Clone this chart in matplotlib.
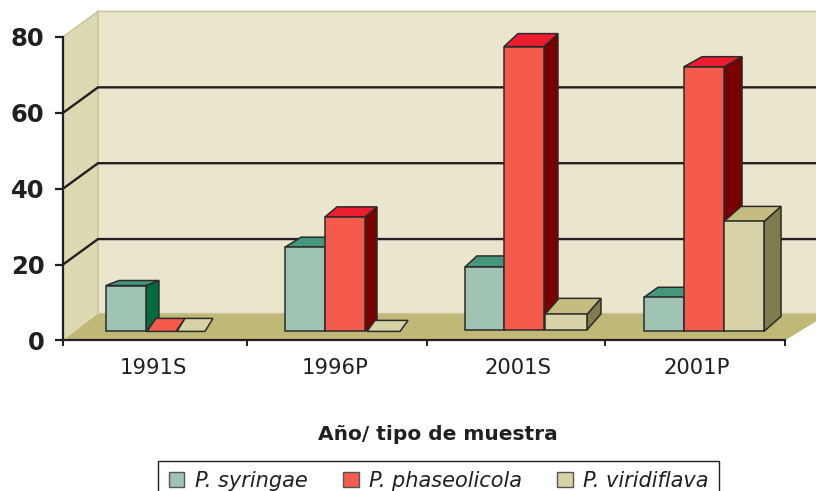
import matplotlib
matplotlib.use("Agg")
import matplotlib.pyplot as plt
from matplotlib.patches import Polygon, Patch

# ---- data
categories = ["1991S", "1996P", "2001S", "2001P"]
series = ["P. syringae", "P. phaseolicola", "P. viridiflava"]
syringae = [12.1, 22.2, 16.6, 9.0]
phaseolicola = [0, 30.2, 74.7, 69.8]
viridiflava = [0, 0, 4.1, 29]
y_ticks = [0, 20, 40, 60, 80]

# ---- appearance
W, H = 816, 491
X0, X1, Y0, Y80 = 63, 785, 340.4, 37
PX_X = (X1 - X0) / 4
PX_Y = (Y0 - Y80) / 80
front = ["#9FC4B3", "#F45B4C", "#D8D3A6"]
top = ["#45967A", "#EE1C30", "#C5BD80"]
side = ["#006B3F", "#780000", "#7F7C4F"]
EDGE = "#2b2b2b"
FONT = "DejaVu Sans"
group_start = [0.238, 1.230, 2.227, 3.219]
base_px = [9, 9, 10.5, 9]
left_px = [[0, 41, 71], [0, 40, 82], [0, 39, 80], [0, 40, 80]]
width_px = [[40, 29, 28], [40, 40, 33], [39, 40, 42], [40, 40, 40]]
depth_px = [[(13, 5), (9, 13), (8, 13)],
            [(16, 10), (12, 10), (8, 11)],
            [(12, 11), (14, 13), (14, 16)],
            [(14, 10), (18, 10), (17, 15)]]

fig = plt.figure(figsize=(W / 100, H / 100), dpi=100, facecolor="white")
ax = fig.add_axes([X0 / W, 1 - Y0 / H, (X1 - X0) / W, (Y0 - Y80) / H])
ax.set_xlim(0, 4)
ax.set_ylim(0, 80)
ax.patch.set_visible(False)


def dx(p):
    return p / PX_X


def dy(p):
    return p / PX_Y


def poly(pts, fc, ec="none", lw=0.0, z=1):
    ax.add_patch(Polygon(pts, closed=True, facecolor=fc, edgecolor=ec, linewidth=lw,
                         zorder=z, clip_on=False, joinstyle="miter"))


# walls and floor
D_X, D_Y = dx(35), dy(25.5)
F_B = dy(27)
right = dx(816 - X0)
poly([(D_X, F_B), (right, F_B), (right, 80 + D_Y), (D_X, 80 + D_Y)], "#EAE6CD", z=1)
poly([(0, 0), (D_X, F_B), (D_X, 80 + D_Y), (0, 80)], "#DDD9B3", z=1)
poly([(0, 0), (4, 0), (right, dy(19)), (right, F_B), (D_X, F_B)], "#BFB877", z=1)
ax.plot([0, D_X, right], [80, 80 + D_Y, 80 + D_Y], color="#CBC69A", lw=1.2, zorder=1.5, clip_on=False)
ax.plot([D_X, D_X], [F_B, 80 + D_Y], color="#CBC69A", lw=1.2, zorder=1.5, clip_on=False)
ax.plot([D_X, right], [F_B, F_B], color="#CBC69A", lw=1.0, zorder=1.5, clip_on=False)

# gridlines on walls
for v in y_ticks[1:-1]:
    ax.plot([0, D_X, right], [v, v + D_Y, v + D_Y], color="#231F20", lw=1.7, zorder=2,
            clip_on=False, solid_joinstyle="miter")

# bars
values = [syringae, phaseolicola, viridiflava]
z = 3
for i in range(len(categories)):
    for j in range(len(series)):
        v = values[j][i]
        x = group_start[i] + dx(left_px[i][j])
        w = dx(width_px[i][j])
        b = dy(base_px[i])
        ddx, ddy = dx(depth_px[i][j][0]), dy(depth_px[i][j][1])
        kw = dict(ec=EDGE, lw=1.1, z=z)
        if v == 0:
            poly([(x, b), (x + w, b), (x + w + ddx, b + ddy), (x + ddx, b + ddy)], front[j], **kw)
        else:
            poly([(x + w, b), (x + w + ddx, b + ddy), (x + w + ddx, b + v + ddy), (x + w, b + v)], side[j], **kw)
            poly([(x, b + v), (x + w, b + v), (x + w + ddx, b + v + ddy), (x + ddx, b + v + ddy)], top[j], **kw)
            poly([(x, b), (x + w, b), (x + w, b + v), (x, b + v)], front[j], **kw)
        z += 1

# axes
for s in ("top", "right"):
    ax.spines[s].set_visible(False)
for s in ("left", "bottom"):
    ax.spines[s].set_linewidth(1.6)
    ax.spines[s].set_color("#231F20")
    ax.spines[s].set_zorder(40)
ax.set_yticks(y_ticks)
ax.set_yticklabels([str(t) for t in y_ticks], fontsize=17.5, fontweight="bold",
                   family=FONT, color="#231F20")
ax.tick_params(axis="y", length=5.8, width=1.6, color="#231F20", pad=7.5)
ax.set_xticks([0, 1.019, 2.017, 3.003, 4])
ax.set_xticklabels([])
ax.tick_params(axis="x", length=4.3, width=1.4, color="#231F20")
ax.set_xticks([0.499, 1.507, 2.52, 3.51], minor=True)
ax.set_xticklabels(categories, minor=True, fontsize=15.2, family=FONT, color="#231F20")
ax.tick_params(axis="x", which="minor", length=0, pad=13)

fig.text(438 / W, 1 - 434 / H, "Año/ tipo de muestra", fontsize=14.5, fontweight="bold",
         family=FONT, color="#231F20", ha="center", va="center")

handles = [Patch(facecolor=front[k], edgecolor="#555555", linewidth=1.0) for k in range(3)]
leg = ax.legend(handles, series, ncol=3, loc="upper left",
                bbox_to_anchor=(158.3 / W, 1 - 460.5 / H), bbox_transform=fig.transFigure,
                borderaxespad=0, frameon=True, fancybox=False, framealpha=1,
                edgecolor="#231F20", borderpad=0.5, handlelength=0.75, handleheight=0.75,
                handletextpad=0.5, columnspacing=1.7,
                prop={"family": FONT, "style": "italic", "size": 15})
leg.get_frame().set_linewidth(1.0)
for t in leg.get_texts():
    t.set_color("#231F20")

fig.savefig("out.png", dpi=100)
